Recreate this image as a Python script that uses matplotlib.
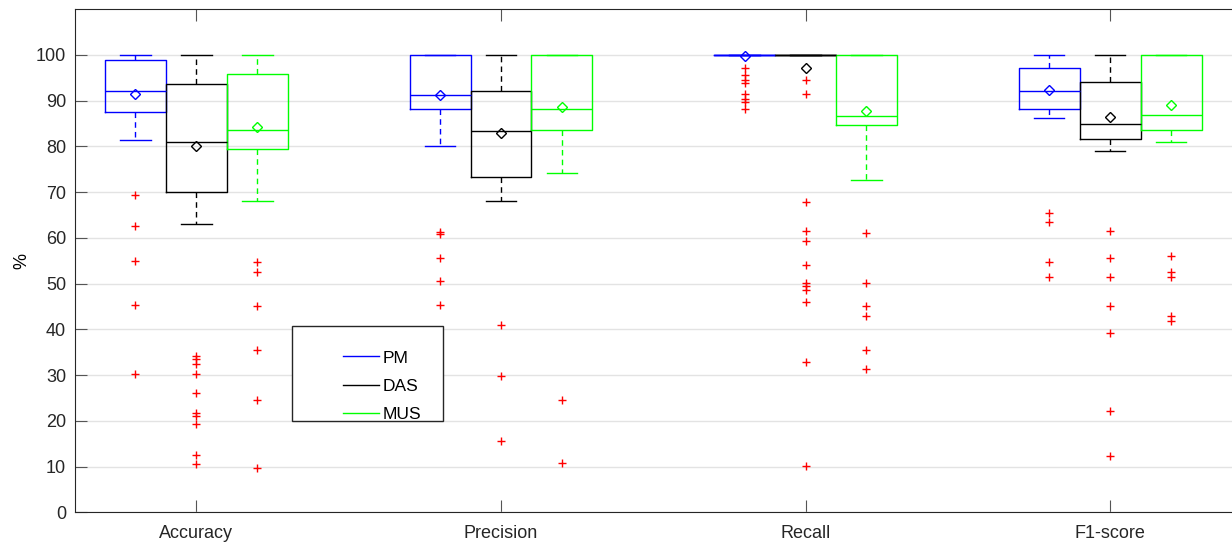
import matplotlib.pyplot as plt
from matplotlib.lines import Line2D
from matplotlib.patches import Rectangle

plt.rcParams['font.family'] = ['Liberation Sans', 'DejaVu Sans']

# 数据
metrics = ['Accuracy', 'Precision', 'Recall', 'F1-score']
methods = ['PM', 'DAS', 'MUS']
colors = ['#0000ff', '#000000', '#00ff00']

# 行: PM, DAS, MUS ; 列: Accuracy, Precision, Recall, F1-score
q1 = [[87.4, 88.1, 100, 88.1],
      [69.9, 73.3, 100, 81.6],
      [79.5, 83.5, 84.7, 83.5]]
med = [[92.1, 91.1, 100, 92.1],
       [81.0, 83.3, 100, 84.9],
       [83.5, 88.1, 86.7, 86.9]]
q3 = [[98.9, 100, 100, 97.0],
      [93.7, 92.1, 100, 94.0],
      [95.9, 100, 100, 100]]
whislo = [[81.3, 80.0, 100, 86.2],
          [63.1, 68.0, 100, 79.0],
          [68.1, 74.2, 72.7, 80.9]]
whishi = [[100, 100, 100, 100],
          [100, 100, 100, 100],
          [100, 100, 100, 100]]
means = [[91.5, 91.3, 99.8, 92.2],
         [80.1, 83.0, 97.0, 86.5],
         [84.3, 88.6, 87.7, 89.1]]
fliers = [
    [[69.3, 62.5, 54.9, 45.3, 30.3],
     [61.2, 60.8, 55.5, 50.5, 45.3],
     [97.2, 95.5, 94.4, 93.9, 91.5, 90.4, 89.6, 88.2],
     [65.4, 63.4, 54.6, 51.4]],
    [[34.2, 33.5, 32.4, 30.3, 26.0, 21.6, 21.0, 19.4, 12.5, 10.5],
     [40.9, 29.8, 15.6],
     [94.4, 91.5, 67.8, 61.4, 59.2, 54.0, 50.1, 49.4, 48.5, 45.9, 32.8, 10.1],
     [61.4, 55.5, 51.4, 45.0, 39.1, 22.1, 12.4]],
    [[54.6, 52.5, 45.2, 35.4, 24.5, 9.7],
     [24.5, 10.8],
     [61.1, 50.1, 45.0, 42.9, 35.4, 31.4],
     [56.0, 52.5, 51.4, 42.9, 41.8]],
]

fig = plt.figure(figsize=(12.32, 5.46), dpi=100)
ax = fig.add_axes([0.0605, 0.0617, 0.9395, 0.9218])

width = 0.2
for j, method in enumerate(methods):
    c = colors[j]
    stats = []
    for i in range(len(metrics)):
        stats.append({'q1': q1[j][i], 'med': med[j][i], 'q3': q3[j][i],
                      'whislo': whislo[j][i], 'whishi': whishi[j][i],
                      'mean': means[j][i], 'fliers': fliers[j][i]})
    pos = [i + 1 + (j - 1) * width for i in range(len(metrics))]
    ax.bxp(stats, positions=pos, widths=width, capwidths=width / 2,
           showmeans=True, manage_ticks=False,
           boxprops=dict(color=c, lw=1),
           medianprops=dict(color=c, lw=1),
           whiskerprops=dict(color=c, lw=1, linestyle=(0, (4, 3))),
           capprops=dict(color=c, lw=1),
           meanprops=dict(marker='D', markerfacecolor='none', markeredgecolor=c,
                          markersize=5, markeredgewidth=1),
           flierprops=dict(marker='+', markeredgecolor='red', markersize=6,
                           markeredgewidth=1))

ax.set_xlim(0.6, 4.4)
ax.set_ylim(0, 110)
ax.set_xticks(range(1, len(metrics) + 1))
ax.set_xticklabels(metrics)
ax.set_yticks(range(0, 101, 10))
ax.set_ylabel('%', fontsize=13)

ax.yaxis.grid(True, color='#e3e3e3', lw=1)
ax.set_axisbelow(True)
ax.spines['right'].set_visible(False)
for s in ['left', 'bottom', 'top']:
    ax.spines[s].set_color('#262626')
ax.tick_params(axis='both', direction='in', length=8.5, color='#555555',
               labelsize=13, labelcolor='#262626', pad=6)
ax.tick_params(axis='x', top=True, pad=9)

# 图例
handles = [Line2D([], [], color=c, lw=1) for c in colors]
ax.add_patch(Rectangle((0.1879, 0.1814), 0.1305, 0.1888, transform=ax.transAxes,
                       facecolor='white', edgecolor='#262626', lw=1, zorder=4.5))
leg = ax.legend(handles, methods, loc='upper left', bbox_to_anchor=(0.2242, 0.3390),
                frameon=False, borderpad=0, handlelength=2.1, handletextpad=0.2,
                labelspacing=0.75, fontsize=12.5)
leg.set_zorder(5)

fig.savefig('out.png', dpi=100)
